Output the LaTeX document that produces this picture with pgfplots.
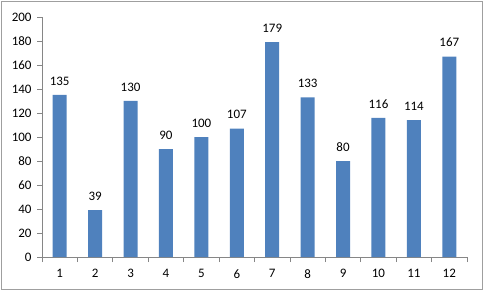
\documentclass[border=0pt]{standalone}
\usepackage{pgfplots}
\pgfplotsset{compat=1.18}
\usepackage{fontspec}
\setmainfont{Carlito}
\definecolor{barblue}{HTML}{4F81BD}
\definecolor{axgray}{HTML}{868686}
\begin{document}
\begin{tikzpicture}[x=1bp,y=1bp]
\useasboundingbox (0,0) rectangle (484,296);
\draw[color=gray!75, line width=0.8bp] (1.5,6.5) rectangle (482,295);
\begin{axis}[
  at={(42bp,39bp)}, anchor=origin,
  scale only axis, width=425bp, height=240bp,
  xmin=0.5, xmax=12.5, ymin=0, ymax=200,
  axis x line*=bottom, axis y line*=left,
  axis line style={color=axgray, line width=0.8bp},
  xtick={1,...,12},
  minor xtick={0.5,1.5,...,12.5},
  major x tick style={draw=none},
  minor tick length=5bp,
  ytick={0,20,...,200},
  major tick length=5bp,
  tick style={color=axgray, line width=0.8bp},
  tick align=outside,
  /pgf/number format/assume math mode=true,
  tick label style={font=\fontsize{13}{15}\selectfont, color=black},
  xticklabel style={yshift=-4bp},
  yticklabel style={xshift=-2bp},
  ybar, bar width=14bp,
  nodes near coords,
  nodes near coords style={font=\fontsize{13}{15}\selectfont, color=black, yshift=6bp},
  clip=false,
]
\addplot[fill=barblue, draw=none] coordinates {
(1,135) (2,39) (3,130) (4,90) (5,100) (6,107) (7,179) (8,133) (9,80) (10,116) (11,114) (12,167)
};
\end{axis}
\end{tikzpicture}
\end{document}
